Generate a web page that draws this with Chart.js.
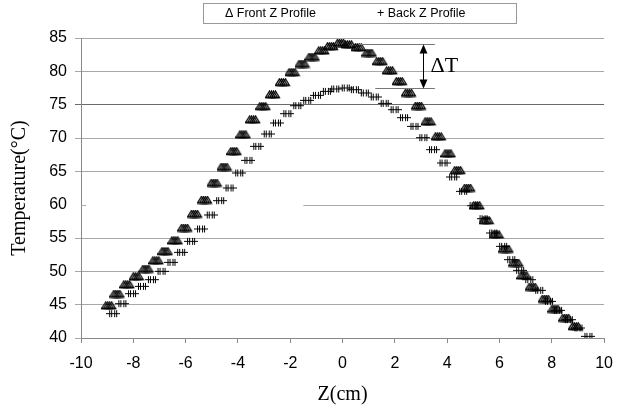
<!DOCTYPE html>
<html><head><meta charset="utf-8">
<script src="https://cdn.jsdelivr.net/npm/chart.js@4.4.1/dist/chart.umd.min.js"></script>
<style>html,body{margin:0;padding:0;background:#fff;}#wrap{position:relative;width:624px;height:412px;}</style>
</head><body><div id="wrap"><canvas id="c" width="624" height="412"></canvas></div>
<script>
// ---- data ----
const seriesNames = ['Front Z Profile', 'Back Z Profile'];
const frontZ = [-8.92,-8.61,-8.23,-7.87,-7.50,-7.12,-6.77,-6.39,-6.02,-5.64,-5.26,-4.89,-4.51,-4.14,-3.79,-3.42,-3.03,-2.66,-2.28,-1.91,-1.53,-1.15,-0.78,-0.44,-0.06,0.25,0.62,1.03,1.44,1.82,2.19,2.54,2.92,3.29,3.68,4.05,4.42,4.80,5.15,5.51,5.89,6.26,6.64,6.95,7.27,7.77,8.14,8.55,8.92];
const frontT = [44.85,46.6,48.0,49.2,50.35,51.6,53.0,54.6,56.5,58.6,60.7,63.25,65.65,68.0,70.5,72.75,74.75,76.5,78.35,79.85,81.1,82.15,83.1,83.75,84.25,84.0,83.6,82.75,81.5,80.1,78.5,76.75,74.8,72.45,70.2,67.65,65.15,62.5,59.85,57.65,55.5,53.35,51.25,49.35,47.65,45.85,44.35,43.0,41.75];
const backZ = [-8.77,-8.42,-8.05,-7.67,-7.29,-6.92,-6.54,-6.17,-5.79,-5.41,-5.04,-4.68,-4.32,-3.95,-3.60,-3.26,-2.86,-2.51,-2.11,-1.73,-1.35,-0.98,-0.60,-0.28,0.12,0.47,0.85,1.23,1.61,1.99,2.35,2.75,3.09,3.46,3.86,4.23,4.61,5.01,5.39,5.76,6.14,6.45,6.79,7.14,7.52,7.89,8.24,8.65,9.02,9.40];
const backT = [43.65,45.15,46.65,47.75,48.75,50.0,51.35,52.85,54.5,56.35,58.45,60.6,62.5,64.75,66.65,68.75,70.6,72.25,73.65,74.85,75.65,76.4,77.0,77.35,77.5,77.25,76.75,76.15,75.2,74.25,73.05,71.75,70.05,68.25,66.25,64.15,62.0,59.85,57.9,55.75,53.75,51.75,50.15,48.75,47.15,45.5,44.15,42.75,41.5,40.25];
const xTicks = [-10,-8,-6,-4,-2,0,2,4,6,8,10];
const yTicks = [40,45,50,55,60,65,70,75,80,85];
// Delta T annotation (data units)
const dtTopT = 84.1, dtBottomT = 77.5, dtArrowZ = 3.07, dtTopStartZ = 0.62, dtBottomStartZ = 1.25, dtEndZ = 3.53;
// the 60 gridline is only partly printed in the reference
const brokenGridT = 60, brokenGridStubEndZ = -9.8, brokenGridStartZ = -1.5;

// ---- marker images (style only) ----
function triCluster(){
  const c=document.createElement('canvas'); c.width=16; c.height=9;
  const g=c.getContext('2d'); g.lineWidth=1.3; g.strokeStyle='#000';
  for(let i=0;i<4;i++){const x0=i*2; g.beginPath(); g.moveTo(x0+0.5,7.5); g.lineTo(x0+4.5,1); g.lineTo(x0+8.5,7.5); g.closePath(); g.stroke();}
  return c;
}
function plusCluster(){
  const c=document.createElement('canvas'); c.width=14; c.height=9;
  const g=c.getContext('2d'); g.lineWidth=1; g.strokeStyle='#000';
  g.beginPath(); g.moveTo(0,4.5); g.lineTo(14,4.5);
  for(const x of [3.5,5.5,8.5,10.5]){g.moveTo(x,1); g.lineTo(x,8);}
  g.stroke(); return c;
}
const triImg = triCluster(), plusImg = plusCluster();

const annot = {
  id:'annot',
  beforeDatasetsDraw(chart){
    const g = chart.ctx, xs = chart.scales.x, ys = chart.scales.y;
    const y = Math.round(ys.getPixelForValue(brokenGridT))+0.5;
    g.save(); g.strokeStyle='#a8a8a8'; g.lineWidth=1; g.beginPath();
    g.moveTo(xs.getPixelForValue(-10), y); g.lineTo(xs.getPixelForValue(brokenGridStubEndZ), y);
    g.moveTo(xs.getPixelForValue(brokenGridStartZ), y); g.lineTo(xs.getPixelForValue(10), y);
    g.stroke(); g.restore();
  },
  afterDatasetsDraw(chart){
    const g = chart.ctx, xs = chart.scales.x, ys = chart.scales.y;
    g.save();
    g.strokeStyle='#777'; g.lineWidth=1;
    const yt = Math.round(ys.getPixelForValue(dtTopT))+0.5, yb = Math.round(ys.getPixelForValue(dtBottomT))+0.5;
    g.beginPath();
    g.moveTo(xs.getPixelForValue(dtTopStartZ), yt); g.lineTo(xs.getPixelForValue(dtEndZ), yt);
    g.moveTo(xs.getPixelForValue(dtBottomStartZ), yb); g.lineTo(xs.getPixelForValue(dtEndZ), yb);
    g.stroke();
    const xa = Math.round(xs.getPixelForValue(dtArrowZ))+0.5;
    g.strokeStyle='#000';
    g.beginPath(); g.moveTo(xa, yt+6); g.lineTo(xa, yb-6); g.stroke();
    g.fillStyle='#000';
    g.beginPath(); g.moveTo(xa, yt); g.lineTo(xa-4, yt+9); g.lineTo(xa+4, yt+9); g.closePath(); g.fill();
    g.beginPath(); g.moveTo(xa, yb); g.lineTo(xa-4, yb-9); g.lineTo(xa+4, yb-9); g.closePath(); g.fill();
    g.font='22px "Liberation Serif"'; g.textBaseline='middle'; g.textAlign='left';
    g.fillText('\u0394T', xa+7, (yt+yb)/2);
    g.restore();
  },
  afterDraw(chart){
    const g = chart.ctx;
    g.save();
    g.strokeStyle='#999'; g.lineWidth=1;
    g.strokeRect(203.5,3.5,313,20);
    g.fillStyle='#000'; g.font='12.5px "Liberation Sans"'; g.textBaseline='middle'; g.textAlign='left';
    g.fillText('\u0394 ' + seriesNames[0], 225, 14);
    g.fillText('+ ' + seriesNames[1], 377, 14);
    g.restore();
  }
};

new Chart(document.getElementById('c'), {
  type:'scatter',
  data:{datasets:[
    {label:seriesNames[0], data:frontZ.map((z,i)=>({x:z,y:frontT[i]})), pointStyle:triImg, pointRadius:7, showLine:false},
    {label:seriesNames[1], data:backZ.map((z,i)=>({x:z,y:backT[i]})), pointStyle:plusImg, pointRadius:7, showLine:false}
  ]},
  options:{
    responsive:false, animation:false, devicePixelRatio:1,
    layout:{padding:{left:0,right:11,top:38,bottom:0}},
    plugins:{legend:{display:false}, tooltip:{enabled:false}},
    scales:{
      x:{type:'linear', min:-10, max:10,
        afterBuildTicks:s=>{s.ticks=xTicks.map(v=>({value:v}));},
        afterFit:s=>{s.height=74;},
        ticks:{font:{family:'Liberation Sans',size:16}, color:'#000', padding:11, maxRotation:0, autoSkip:false},
        grid:{drawOnChartArea:false, tickLength:5, color:'#888'},
        border:{color:'#888'},
        title:{display:true, text:'Z(cm)', font:{family:'Liberation Serif',size:20}, color:'#000', padding:{top:0,bottom:5}}
      },
      y:{type:'linear', min:40, max:85,
        afterBuildTicks:s=>{s.ticks=yTicks.map(v=>({value:v}));},
        afterFit:s=>{s.width=81;},
        ticks:{font:{family:'Liberation Sans',size:16}, color:'#000', padding:8, autoSkip:false},
        grid:{tickLength:6, color:c=>{if(!c.tick) return '#a8a8a8'; if(c.tick.value===75) return '#6a6a6a'; if(c.tick.value===brokenGridT) return 'rgba(0,0,0,0)'; return '#a8a8a8';}},
        border:{color:'#888'},
        title:{display:true, text:'Temperature(\u00B0C)', font:{family:'Liberation Serif',size:20}, color:'#000', padding:{top:8,bottom:0}}
      }
    }
  },
  plugins:[annot]
});
</script></body></html>
